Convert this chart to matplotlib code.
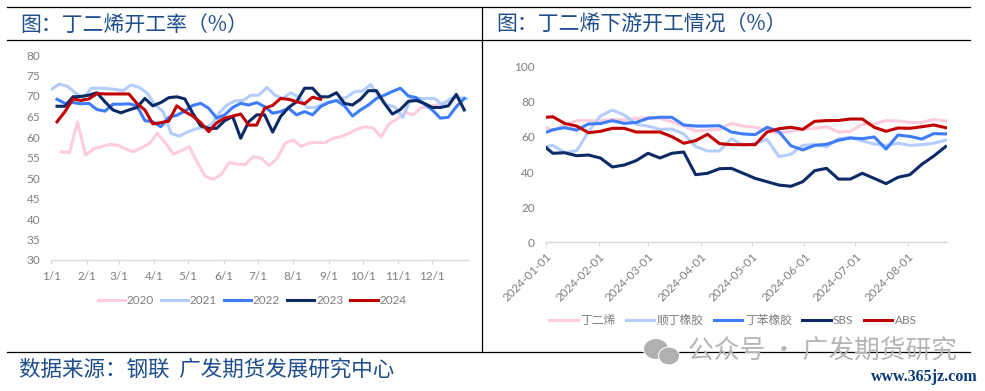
import numpy as np
import pandas as pd
import matplotlib
matplotlib.use('Agg')
import matplotlib.pyplot as plt
from matplotlib.lines import Line2D
from matplotlib.patches import Ellipse

plt.rcParams['font.family'] = ['Lato', 'Noto Sans CJK SC', 'DejaVu Sans']

W, H = 985, 391

# left chart: weekly rates by year, x is day of the year
years = ['2020', '2021', '2022', '2023', '2024']
start_day = [9, 0, 5, 5, 5]
y2020 = [56.4, 56.2, 63.7, 55.6, 57.1, 57.6, 58.2, 58.0, 57.1, 56.4, 57.4, 58.4, 60.9, 58.6, 55.8, 56.7, 57.6,
         53.8, 50.4, 49.7, 50.9, 53.8, 53.4, 53.3, 55.2, 54.8, 53.0, 54.8, 58.5, 59.3, 57.7, 58.5, 58.7, 58.6,
         59.7, 60.1, 60.9, 61.9, 62.5, 62.2, 60.0, 63.2, 64.4, 66.0, 65.4, 67.1, 67.5, 67.8, 68.5, 69.5]
y2021 = [71.6, 72.9, 72.4, 70.8, 69.4, 71.9, 71.9, 71.8, 71.6, 71.3, 72.7, 72.1, 70.7, 67.8, 66.2, 60.9, 60.2,
         61.2, 61.9, 62.3, 62.9, 65.8, 67.8, 68.8, 68.9, 70.2, 70.2, 72.1, 70.2, 69.4, 70.8, 69.7, 67.2, 67.2,
         68.0, 68.6, 69.0, 69.7, 71.1, 71.2, 72.8, 69.8, 67.8, 67.4, 64.8, 69.2, 69.4, 69.4, 69.4, 67.8, 69.4,
         69.6, 69.4]
y2022 = [69.2, 68.2, 68.4, 68.1, 68.2, 66.7, 66.3, 68.0, 68.0, 68.1, 67.6, 64.0, 63.7, 62.5, 64.8, 65.3, 66.3,
         67.7, 68.2, 67.0, 64.6, 65.4, 67.2, 68.2, 67.8, 68.4, 67.4, 65.8, 66.2, 67.0, 65.4, 66.2, 65.4, 67.4,
         68.4, 68.9, 67.6, 65.1, 66.6, 67.8, 69.4, 70.2, 71.1, 71.9, 70.0, 69.6, 68.0, 66.6, 64.6, 64.8, 67.4,
         69.4]
y2023 = [67.5, 67.5, 69.8, 69.9, 70.2, 70.8, 68.6, 66.6, 65.9, 66.6, 67.2, 69.4, 67.6, 68.4, 69.6, 69.8, 69.3,
         65.8, 62.7, 62.1, 62.1, 64.0, 65.0, 59.7, 63.7, 65.4, 65.4, 61.2, 65.0, 67.2, 68.6, 71.9, 71.9, 69.8,
         69.8, 70.8, 68.2, 67.8, 69.2, 71.3, 71.3, 68.2, 65.6, 66.7, 68.7, 68.9, 68.2, 67.2, 67.2, 67.6, 70.4,
         66.6]
y2024 = [63.7, 66.2, 69.3, 68.9, 69.3, 70.6, 70.5, 70.5, 70.5, 70.5, 68.2, 66.6, 63.2, 63.5, 63.9, 67.6, 66.2,
         65.1, 63.5, 61.3, 63.5, 64.6, 65.1, 65.6, 62.9, 62.9, 67.0, 67.7, 69.4, 69.2, 68.6, 68.1, 69.7, 69.2]
left_series = [y2020, y2021, y2022, y2023, y2024]
month_days = [0, 31, 59, 90, 120, 151, 181, 212, 243, 273, 304, 334]
month_labels = ['1/1', '2/1', '3/1', '4/1', '5/1', '6/1', '7/1', '8/1', '9/1', '10/1', '11/1', '12/1']

# right chart: downstream rates for 2024
names = ['丁二烯', '顺丁橡胶', '丁苯橡胶', 'SBS', 'ABS']
butadiene = [65.5, 63.6, 66.8, 69.3, 69.3, 69.3, 70.0, 69.6, 70.6, 71.0, 70.6, 68.7, 66.2, 63.4, 63.9, 64.3, 67.7,
             66.2, 65.5, 63.6, 62.0, 63.4, 64.3, 64.9, 65.8, 62.8, 63.2, 67.2, 67.4, 69.3, 69.1, 68.3, 68.3, 70.0,
             69.1]
br = [54.5, 55.2, 51.0, 52.2, 63.0, 71.9, 75.3, 72.5, 67.2, 66.2, 64.3, 64.5, 61.7, 54.5, 52.0, 52.0, 59.0, 55.2,
      56.4, 58.6, 48.8, 50.1, 55.2, 55.6, 54.3, 59.0, 59.6, 57.7, 56.0, 55.2, 56.4, 55.2, 55.6, 56.4, 58.1]
sbr = [62.6, 64.1, 65.3, 63.9, 67.4, 67.6, 69.3, 67.7, 68.3, 70.6, 71.2, 71.2, 66.8, 66.2, 66.2, 66.4, 62.8, 61.7,
       61.3, 65.5, 63.0, 55.0, 52.6, 55.2, 55.8, 58.1, 59.4, 59.0, 60.0, 53.1, 61.1, 60.3, 58.8, 61.9, 61.7]
sbs = [53.9, 50.7, 51.0, 49.3, 49.7, 48.0, 42.9, 44.0, 46.5, 50.7, 48.0, 50.7, 51.4, 38.5, 39.3, 41.9, 42.1, 39.3,
       36.4, 34.5, 32.6, 31.9, 34.5, 40.8, 42.1, 36.0, 36.0, 39.3, 36.4, 33.4, 37.0, 38.5, 44.4, 49.1, 54.5]
abs_ = [71.2, 71.5, 67.7, 66.2, 62.4, 63.2, 64.9, 64.9, 62.8, 62.8, 62.8, 60.2, 56.4, 57.9, 61.5, 56.2, 55.6, 55.6,
        55.6, 62.8, 64.7, 65.5, 64.3, 68.9, 69.3, 69.4, 70.2, 70.2, 65.5, 63.2, 65.1, 64.9, 65.8, 66.8, 65.3]
right_series = [butadiene, br, sbr, sbs, abs_]
dates = pd.to_datetime(['2024-01-01']).append(pd.date_range('2024-01-05', periods=34, freq='7D'))
tick_dates = ['2024-01-01', '2024-02-01', '2024-03-01', '2024-04-01', '2024-05-01', '2024-06-01', '2024-07-01', '2024-08-01']

colors = ['#FFCCDD', '#B3CDFF', '#3D7DFA', '#0B2A66', '#C00000']
GRAY = '#7F7F7F'
NAVY = '#1F4E8C'


def box(x0, y0, x1, y1):
    # pixel box (top-left origin) to figure fractions
    return [x0 / W, 1 - y1 / H, (x1 - x0) / W, (y1 - y0) / H]


def style(ax):
    for s in ['top', 'right', 'left']:
        ax.spines[s].set_visible(False)
    ax.spines['bottom'].set_color('#D9D9D9')
    ax.spines['bottom'].set_linewidth(1)
    ax.tick_params(axis='y', length=0, labelsize=8.5, labelcolor=GRAY, pad=8)
    ax.tick_params(axis='x', length=3, width=0.8, color='#D9D9D9', labelsize=8.5, labelcolor=GRAY)


fig = plt.figure(figsize=(W / 100, H / 100), dpi=100)

ax1 = fig.add_axes(box(51.3, 55, 467.7, 260))
for name, start, vals, c in zip(years, start_day, left_series, colors):
    ax1.plot(start + 7 * np.arange(len(vals)), vals, color=c, lw=2.2, label=name)
ax1.set_xlim(0, 365)
ax1.set_ylim(30, 80)
ax1.set_yticks(range(30, 85, 5))
ax1.set_xticks(month_days)
ax1.set_xticklabels(month_labels)
style(ax1)
ax1.tick_params(axis='x', pad=5)
ax1.legend(loc='center', bbox_to_anchor=(252 / W, 1 - 301 / H), bbox_transform=fig.transFigure, ncol=5,
           frameon=False, fontsize=8.5, labelcolor=GRAY, handlelength=2.3, handletextpad=0.15, columnspacing=0.6)

ax2 = fig.add_axes(box(546, 66.7, 947.3, 242.3))
for name, vals, c in zip(names, right_series, colors):
    ax2.plot(dates, vals, color=c, lw=2.2, label=name)
ax2.set_xlim(pd.Timestamp('2024-01-01'), pd.Timestamp('2024-08-24'))
ax2.set_ylim(0, 100)
ax2.set_yticks(range(0, 120, 20))
ax2.set_xticks(pd.to_datetime(tick_dates))
ax2.set_xticklabels(tick_dates, rotation=45, ha='right', rotation_mode='anchor')
style(ax2)
ax2.tick_params(axis='x', pad=3)
ax2.legend(loc='center', bbox_to_anchor=(733 / W, 1 - 320 / H), bbox_transform=fig.transFigure, ncol=5,
           frameon=False, fontsize=8.5, labelcolor=GRAY, handlelength=2.4, handletextpad=0.2, columnspacing=0.9)

# frame rules of the page
for (x0, y0, x1, y1) in [(7, 7, 970, 7), (7, 40, 970, 40), (7, 352, 970, 352), (482.3, 7, 482.3, 352)]:
    fig.add_artist(Line2D([x0 / W, x1 / W], [1 - y0 / H, 1 - y1 / H], color='black', lw=0.9))

fig.text(20 / W, 1 - 24.5 / H, '图：丁二烯开工率（%）', fontsize=15, color=NAVY, va='center', family='Noto Sans CJK SC')
fig.text(496 / W, 1 - 24.5 / H, '图：丁二烯下游开工情况（%）', fontsize=15, color=NAVY, va='center', family='Noto Sans CJK SC')
fig.text(19 / W, 1 - 370 / H, '数据来源：钢联  广发期货发展研究中心', fontsize=15.5, color=NAVY, va='center',
         family='Noto Sans CJK SC')

# watermark over the bottom rule
for (cx, cy, w, h) in [(656, 349, 25, 21), (669, 356, 21, 18)]:
    fig.add_artist(Ellipse((cx / W, 1 - cy / H), w / W, h / H, transform=fig.transFigure, color='#B0B0B0',
                           ec='white', lw=0.8, zorder=5))
fig.text(688 / W, 1 - 352 / H, '公众号 · 广发期货研究', fontsize=18.5, color='#B5B5B5', va='center',
         family='Noto Sans CJK SC', zorder=6)
fig.text(978 / W, 1 - 377 / H, 'www.365jz.com', fontsize=11.5, color='#0B3A7A', va='center', ha='right',
         family='Liberation Serif', weight='bold')

fig.savefig('out.png', dpi=100)
